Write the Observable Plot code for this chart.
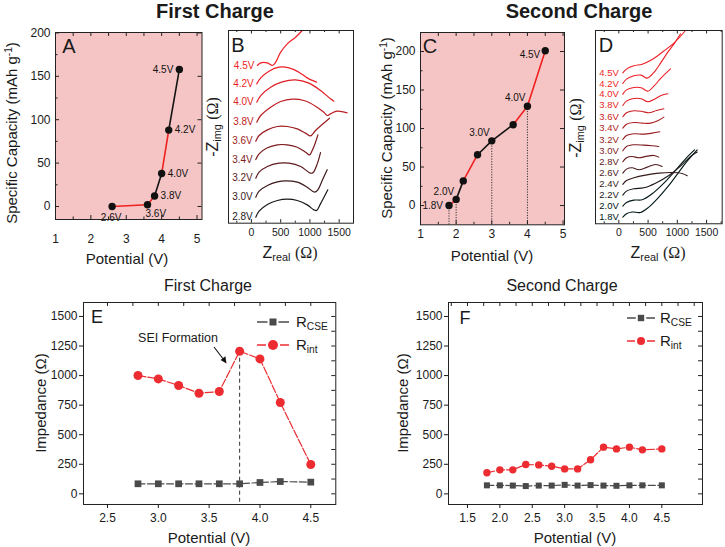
<!DOCTYPE html>
<html><head><meta charset="utf-8">
<script src="https://cdn.jsdelivr.net/npm/d3@7"></script>
<script src="https://cdn.jsdelivr.net/npm/@observablehq/plot@0.6"></script>
<style>
html,body{margin:0;padding:0;background:#fff;}
#fig{position:relative;width:725px;height:547px;overflow:hidden;background:#fff;font-family:"Liberation Sans",Arial,Helvetica,sans-serif;color:#1a1a1a;}
.t{position:absolute;white-space:nowrap;line-height:1;}
.s{font-size:68%;position:relative;top:0.32em;}
.p{font-size:68%;position:relative;top:-0.45em;}
.sf{font-family:"Liberation Serif","DejaVu Serif",serif;}
</style></head><body><div id="fig"></div>
<script>
// ================= DATA =================
// Panel A (first charge): specific capacity vs potential
const aPotential = [2.6, 3.6, 3.8, 4.0, 4.2, 4.5];
const aCapacity  = [0, 2, 12, 38, 88, 158];
const aLabels    = ["2.6V", "3.6V", "3.8V", "4.0V", "4.2V", "4.5V"];
// Panel C (second charge)
const cPotential = [1.8, 2.0, 2.2, 2.6, 3.0, 3.6, 4.0, 4.5];
const cCapacity  = [0, 8, 32, 66, 84, 105, 129, 201];
const cLabels    = ["1.8V", "2.0V", "", "", "3.0V", "", "4.0V", "4.5V"];
const cDropPotentials = [1.8, 2.0, 3.0, 4.0];
// Panel B (first charge Nyquist curves, stacked): [Zreal, -Zimg] in ohm
const bVoltages = [2.8, 3.0, 3.2, 3.4, 3.6, 3.8, 4.0, 4.2, 4.5];
const bCurves = [
  [[74,102],[131,204],[273,318],[443,386],[613,409],[784,386],[954,312],[1068,227],[1113,216],[1181,329],[1306,568]],
  [[74,443],[131,545],[273,642],[443,704],[585,721],[784,699],[954,613],[1079,528],[1136,568],[1210,727],[1295,909]],
  [[74,767],[131,869],[273,966],[471,1022],[642,1022],[841,966],[1011,852],[1056,863],[1125,1011],[1181,1204]],
  [[74,1085],[131,1181],[273,1284],[443,1335],[613,1335],[784,1295],[926,1210],[994,1164],[1039,1238],[1096,1380],[1136,1505]],
  [[74,1397],[131,1494],[273,1590],[443,1647],[613,1647],[784,1607],[926,1534],[1011,1488],[1096,1579],[1210,1681],[1335,1789]],
  [[91,1721],[159,1835],[329,1977],[500,2073],[699,2113],[897,2090],[1096,1994],[1238,1891],[1295,1835],[1352,1863],[1465,1908],[1636,1880]],
  [[91,2062],[159,2175],[329,2317],[528,2408],[755,2442],[983,2386],[1181,2261],[1352,2119],[1409,2079]],
  [[91,2374],[159,2476],[301,2590],[471,2658],[642,2647],[812,2573],[954,2476],[1113,2403]],
  [[102,2687],[159,2732],[273,2732],[358,2687],[415,2743],[500,2914],[613,3056],[755,3169],[869,3283]]
];
// Panel D (second charge Nyquist curves, stacked)
const dVoltages = [1.8, 2.0, 2.2, 2.4, 2.6, 2.8, 3.0, 3.2, 3.4, 3.6, 3.8, 4.0, 4.2, 4.5];
const dCurves = [
  [[68,114],[131,171],[228,200],[371,194],[513,285],[684,456],[855,656],[1026,884],[1169,1072],[1340,1265]],
  [[68,302],[131,365],[257,405],[399,410],[570,513],[770,695],[969,912],[1140,1112],[1294,1265]],
  [[68,490],[131,559],[257,599],[428,616],[627,695],[855,827],[1055,986],[1226,1151],[1340,1226]],
  [[68,673],[131,741],[257,787],[456,832],[684,866],[912,878],[1083,861],[1169,821]],
  [[68,866],[131,935],[228,958],[342,923],[485,969],[627,1015],[741,980]],
  [[68,1060],[131,1129],[228,1151],[342,1129],[485,1157],[599,1169],[684,1140]],
  [[68,1248],[131,1322],[257,1351],[428,1345],[570,1334],[684,1322]],
  [[68,1442],[131,1510],[257,1539],[428,1533],[570,1550],[701,1573]],
  [[68,1636],[131,1704],[257,1733],[399,1721],[542,1721],[656,1756],[770,1824]],
  [[68,1830],[131,1898],[257,1932],[399,1921],[513,1898],[644,1938],[770,1967]],
  [[68,2024],[131,2098],[257,2143],[382,2138],[496,2086],[610,2132],[724,2195],[838,2223]],
  [[68,2217],[131,2291],[257,2331],[382,2326],[496,2269],[610,2366],[724,2497],[884,2651]],
  [[68,2400],[131,2474],[257,2531],[382,2542],[485,2491],[599,2588],[724,2765],[838,2936],[952,3089],[1055,3249]],
  [[68,2582],[131,2645],[257,2702],[399,2730],[570,2810],[758,2947],[941,3089],[1140,3306]]
];
// Panel E (first charge impedance)
const ePotential = [2.8, 3.0, 3.2, 3.4, 3.6, 3.8, 4.0, 4.2, 4.5];
const eRcse = [85, 85, 85, 85, 85, 85, 96, 104, 99];
const eRint = [1001, 972, 916, 851, 865, 1206, 1141, 772, 248];
// Panel F (second charge impedance)
const fPotential = [1.8, 2.0, 2.2, 2.4, 2.6, 2.8, 3.0, 3.2, 3.4, 3.6, 3.8, 4.0, 4.2, 4.5];
const fRcse = [72, 72, 70, 66, 70, 70, 76, 70, 74, 70, 68, 72, 72, 72];
const fRint = [178, 203, 203, 248, 245, 234, 211, 211, 288, 395, 380, 395, 372, 380];
// Tick values
const potTicksAC = [1, 2, 3, 4, 5];
const capTicks = [0, 50, 100, 150, 200];
const zTicks = [0, 500, 1000, 1500];
const impTicks = [0, 250, 500, 750, 1000, 1250, 1500];
const eTicks = [2.5, 3.0, 3.5, 4.0, 4.5];
const fTicks = [1.5, 2.0, 2.5, 3.0, 3.5, 4.0, 4.5];

// ================= STYLE =================
const FONT = '"Liberation Sans", Arial, Helvetica, sans-serif';
const RED = "#ec2c30", SEG_RED = "#f0201f", BLACK = "#141414", PINK = "#f5c5c5", GRAY = "#4a4a4a";
const aSegColors = [SEG_RED, SEG_RED, BLACK, SEG_RED, BLACK];
const cSegColors = [SEG_RED, BLACK, SEG_RED, BLACK, BLACK, SEG_RED, SEG_RED];
const aLabelPos = ["below", "belowRight", "right", "right", "right", "left"];
const cLabelPos = ["left", "upLeft", "", "", "upLeft", "", "upLeft", "leftLow"];
const PLACE = {
  below: {textAnchor: "middle", dx: -1, dy: 11},
  belowRight: {textAnchor: "start", dx: -2, dy: 9},
  right: {textAnchor: "start", dx: 6, dy: 0},
  left: {textAnchor: "end", dx: -6, dy: 0},
  upLeft: {textAnchor: "end", dx: -2, dy: -8},
  leftLow: {textAnchor: "end", dx: -5, dy: 4}
};

const fig = document.getElementById("fig");

function panel({frame: [x0, y0, x1, y1], pad: [pl, pt, pr, pb], x, y, color, marks, fontSize = 12}) {
  const svg = Plot.plot({
    width: x1 - x0 + pl + pr, height: y1 - y0 + pt + pb,
    marginLeft: pl, marginTop: pt, marginRight: pr, marginBottom: pb,
    x, y, color,
    style: {background: "transparent", fontFamily: FONT, fontSize: fontSize + "px", color: "#1a1a1a", overflow: "visible"},
    marks
  });
  svg.style.position = "absolute";
  svg.style.left = (x0 - pl) + "px";
  svg.style.top = (y0 - pt) + "px";
  fig.appendChild(svg);
}
function boxTicks(frame, {bottom = [], top = [], left = [], right = []}, len) {
  const W = frame[2] - frame[0], H = frame[3] - frame[1];
  const st = {stroke: "#222", strokeWidth: 1};
  return [
    Plot.ruleX(bottom, {...st, insetTop: H - len}),
    Plot.ruleX(top, {...st, insetBottom: H - len}),
    Plot.ruleY(left, {...st, insetRight: W - len}),
    Plot.ruleY(right, {...st, insetLeft: W - len})
  ];
}
function inDomain(vals, [a, b]) { return vals.filter(v => v >= a - 1e-9 && v <= b + 1e-9); }
function segments(rows, colors) {
  return colors.flatMap((c, i) => [{...rows[i], seg: i, c}, {...rows[i + 1], seg: i, c}]);
}
function pointLabels(rows) {
  return Object.entries(PLACE).map(([k, o]) =>
    Plot.text(rows.filter(r => r.pos === k && r.label), {x: "x", y: "y", text: "label", fontSize: 10, fill: "#111", ...o}));
}

// ---------- Panel A ----------
{
  const frame = [55, 31.5, 201.5, 218.5];
  const xd = [1, 5.14], yd = [-15, 200.5];
  const rows = aPotential.map((x, i) => ({x, y: aCapacity[i], label: aLabels[i], pos: aLabelPos[i]}));
  panel({
    frame, pad: [40, 8, 8, 30],
    x: {domain: xd}, y: {domain: yd},
    marks: [
      Plot.frame({fill: PINK, stroke: null}),
      ...boxTicks(frame, {bottom: potTicksAC, top: inDomain(d3.range(1, 5.01, 0.5), xd), left: capTicks, right: capTicks}, 4),
      ...boxTicks(frame, {bottom: d3.range(1.5, 5, 1), left: d3.range(25, 200, 50)}, 2.5),
      Plot.line(segments(rows, aSegColors), {x: "x", y: "y", z: "seg", stroke: "c", strokeWidth: 1.6}),
      Plot.dot(rows, {x: "x", y: "y", r: 3.7, fill: "#111"}),
      ...pointLabels(rows),
      Plot.frame({stroke: "#222"}),
      Plot.axisX(potTicksAC, {tickSize: 0, tickPadding: 15, label: null, tickFormat: d3.format("d")}),
      Plot.axisY(capTicks, {tickSize: 0, tickPadding: 5, label: null, tickFormat: d3.format("d")})
    ]
  });
}
// ---------- Panel B ----------
{
  const frame = [228, 30, 353, 222.7];
  const xd = [-392, 1745];
  const pts = bVoltages.flatMap((v, i) => bCurves[i].map(([x, y]) => ({v, x, y})));
  const starts = bVoltages.map((v, i) => ({v, x: bCurves[i][0][0], y: bCurves[i][0][1], label: v.toFixed(1) + "V"}));
  panel({
    frame, pad: [8, 8, 12, 20], fontSize: 10.5,
    x: {domain: xd}, y: {domain: [0, 3283], axis: null},
    color: {type: "linear", domain: [2.8, 4.1, 4.5], range: ["#1c1819", "#ee1f25", "#ee1f25"]},
    marks: [
      ...boxTicks(frame, {bottom: zTicks, top: zTicks}, 3.5),
      ...boxTicks(frame, {bottom: inDomain(d3.range(-250, 1750, 500), xd), top: inDomain(d3.range(-250, 1750, 500), xd)}, 2),
      Plot.line(pts, {x: "x", y: "y", z: "v", stroke: "v", curve: "catmull-rom", strokeWidth: 1.2, clip: true}),
      Plot.text(starts, {x: "x", y: "y", text: "label", fill: "v", textAnchor: "end", dx: -3, fontSize: 10}),
      Plot.frame({stroke: "#222"}),
      Plot.axisX(zTicks, {tickSize: 0, tickPadding: 5, label: null, tickFormat: d3.format("d")})
    ]
  });
}
// ---------- Panel C ----------
{
  const frame = [420, 31.7, 564, 224];
  const xd = [1, 5.04], yd = [-25, 224.7];
  const rows = cPotential.map((x, i) => ({x, y: cCapacity[i], label: cLabels[i], pos: cLabelPos[i]}));
  const drops = rows.filter(r => cDropPotentials.includes(r.x));
  panel({
    frame, pad: [35, 8, 10, 22],
    x: {domain: xd}, y: {domain: yd},
    marks: [
      Plot.frame({fill: PINK, stroke: null}),
      ...boxTicks(frame, {bottom: potTicksAC, top: inDomain(d3.range(1, 5.01, 0.5), xd), left: capTicks, right: capTicks}, 4),
      ...boxTicks(frame, {bottom: d3.range(1.5, 5, 1), left: d3.range(25, 225, 50)}, 2.5),
      Plot.ruleX(drops, {x: "x", y1: "y", y2: yd[0], stroke: "#222", strokeWidth: 0.9, strokeDasharray: "1.2,1.4"}),
      Plot.line(segments(rows, cSegColors), {x: "x", y: "y", z: "seg", stroke: "c", strokeWidth: 1.6}),
      Plot.dot(rows, {x: "x", y: "y", r: 3.7, fill: "#111"}),
      ...pointLabels(rows),
      Plot.frame({stroke: "#222"}),
      Plot.axisX(potTicksAC, {tickSize: 0, tickPadding: 5, label: null, tickFormat: d3.format("d")}),
      Plot.axisY(capTicks, {tickSize: 0, tickPadding: 5, label: null, tickFormat: d3.format("d")})
    ]
  });
}
// ---------- Panel D ----------
{
  const frame = [595, 30, 721.7, 223.3];
  const xd = [-399, 1767];
  const pts = dVoltages.flatMap((v, i) => dCurves[i].map(([x, y]) => ({v, x, y})));
  const starts = dVoltages.map((v, i) => ({v, x: dCurves[i][0][0], y: dCurves[i][0][1], label: v.toFixed(1) + "V"}));
  panel({
    frame, pad: [8, 8, 3, 20], fontSize: 10.5,
    x: {domain: xd}, y: {domain: [0, 3306], axis: null},
    color: {type: "linear", domain: [2.2, 3.9, 4.5], range: ["#1c1819", "#ee1f25", "#ee1f25"]},
    marks: [
      ...boxTicks(frame, {bottom: zTicks, top: zTicks}, 3.5),
      ...boxTicks(frame, {bottom: inDomain(d3.range(-250, 1767, 500), xd), top: inDomain(d3.range(-250, 1767, 500), xd)}, 2),
      Plot.line(pts, {x: "x", y: "y", z: "v", stroke: "v", curve: "catmull-rom", strokeWidth: 1.1, clip: true}),
      Plot.text(starts, {x: "x", y: "y", text: "label", fill: "v", textAnchor: "end", dx: -4, fontSize: 9.5}),
      Plot.frame({stroke: "#222"}),
      Plot.axisX(zTicks, {tickSize: 0, tickPadding: 5, label: null, tickFormat: d3.format("d")})
    ]
  });
}
// ---------- Panels E & F ----------
function impedancePanel(frame, xd, potential, rcse, rint, xticks, {peakRule = false, rIntR = 4.4, rCseR = 3.8}) {
  const yd = [-90, 1618];
  const rows = potential.map((x, i) => ({x, rcse: rcse[i], rint: rint[i]}));
  const peak = rows.filter(r => r.rint === d3.max(rint));
  panel({
    frame, pad: [45, 8, 8, 25],
    x: {domain: xd}, y: {domain: yd},
    marks: [
      ...boxTicks(frame, {top: inDomain(d3.range(1, 5.01, 0.25), xd), right: inDomain(d3.range(-125, 1620, 125), yd)}, 4),
      peakRule ? Plot.ruleX(peak, {x: "x", y1: "rint", y2: yd[0], stroke: "#333", strokeWidth: 1, strokeDasharray: "4,3"}) : null,
      Plot.line(rows, {x: "x", y: "rcse", stroke: GRAY, strokeWidth: 1.2, strokeDasharray: "7,2.5"}),
      Plot.line(rows, {x: "x", y: "rint", stroke: RED, strokeWidth: 1.2, strokeDasharray: "8,2"}),
      Plot.dot(rows, {x: "x", y: "rcse", symbol: "square", r: rCseR, fill: GRAY}),
      Plot.dot(rows, {x: "x", y: "rint", r: rIntR, fill: RED}),
      Plot.frame({stroke: "#222"}),
      Plot.axisX(xticks, {tickSize: 4, tickPadding: 5, label: null, tickFormat: d3.format(".1f")}),
      Plot.axisY(impTicks, {tickSize: 4, tickPadding: 2, label: null, tickFormat: d3.format("d")})
    ].filter(Boolean)
  });
}
impedancePanel([82.7, 302, 335, 504], [2.264, 4.746], ePotential, eRcse, eRint, eTicks, {peakRule: true, rIntR: 4.5, rCseR: 3.8});
impedancePanel([448, 302, 702, 504], [1.207, 5.128], fPotential, fRcse, fRint, fTicks, {rIntR: 3.7, rCseR: 3.4});

// ================= TEXT & LEGENDS (overlays) =================
function T(html, x, y, {size = 15, weight = "normal", rot = false, anchor = "middle", color = "#1a1a1a"} = {}) {
  const d = document.createElement("div");
  d.className = "t";
  d.innerHTML = html;
  Object.assign(d.style, {left: x + "px", top: y + "px", fontSize: size + "px", fontWeight: weight, color,
    transform: `translate(${anchor === "start" ? "0" : "-50%"},-50%)` + (rot ? " rotate(-90deg)" : "")});
  fig.appendChild(d);
}
// Titles
T("First Charge", 215, 11, {size: 20, weight: "bold"});
T("Second Charge", 579, 11, {size: 20, weight: "bold"});
T("First Charge", 208, 286, {size: 16});
T("Second Charge", 562, 286, {size: 16});
// Panel letters
T("A", 69, 46, {size: 20});
T("B", 238, 45, {size: 20});
T("C", 430, 46, {size: 20});
T("D", 606, 45, {size: 20});
T("E", 97, 317, {size: 18});
T("F", 465, 318, {size: 18});
// Axis titles
const capLabel = 'Specific Capacity (mAh g<span class="p">-1</span>)';
T(capLabel, 12, 133, {size: 15, rot: true});
T(capLabel, 387, 128, {size: 15, rot: true});
T("Potential (V)", 127, 258, {size: 15});
T("Potential (V)", 492, 255, {size: 15});
T('-Z<span class="s">img</span> <span class="sf">(Ω)</span>', 213, 127, {size: 16, rot: true});
T('-Z<span class="s">img</span> <span class="sf">(Ω)</span>', 576, 128, {size: 16, rot: true});
T('Z<span class="s">real</span> <span class="sf">(Ω)</span>', 290, 253, {size: 16});
T('Z<span class="s">real</span> <span class="sf">(Ω)</span>', 658, 253, {size: 16});
T("Impedance (Ω)", 40, 403, {size: 15, rot: true});
T("Impedance (Ω)", 402, 403, {size: 15, rot: true});
T("Potential (V)", 209, 537, {size: 15});
T("Potential (V)", 575, 537, {size: 15});
// Annotation
T("SEI Formation", 178, 338, {size: 12.5});
// Legends
T('R<span class="s">CSE</span>', 296, 322, {size: 15, anchor: "start"});
T('R<span class="s">int</span>', 296, 345, {size: 15, anchor: "start"});
T('R<span class="s">CSE</span>', 660, 318, {size: 15, anchor: "start"});
T('R<span class="s">int</span>', 660, 341, {size: 15, anchor: "start"});

const ov = d3.create("svg").attr("width", 725).attr("height", 547)
  .style("position", "absolute").style("left", "0px").style("top", "0px").style("overflow", "visible");
function swatch(x0, x1, y, kind, size, color) {
  const cx = (x0 + x1) / 2, gap = size + 2;
  ov.append("line").attr("x1", x0).attr("x2", cx - gap).attr("y1", y).attr("y2", y).attr("stroke", color).attr("stroke-width", 1.5);
  ov.append("line").attr("x1", cx + gap).attr("x2", x1).attr("y1", y).attr("y2", y).attr("stroke", color).attr("stroke-width", 1.5);
  if (kind === "square") ov.append("rect").attr("x", cx - size).attr("y", y - size).attr("width", 2 * size).attr("height", 2 * size).attr("fill", color);
  else ov.append("circle").attr("cx", cx).attr("cy", y).attr("r", size).attr("fill", color);
}
swatch(257, 289, 322, "square", 3.5, GRAY);
swatch(257, 289, 345, "circle", 5, RED);
swatch(627, 655, 318, "square", 3.2, GRAY);
swatch(627, 655, 341, "circle", 4, RED);
// Arrow for SEI annotation
ov.append("line").attr("x1", 214).attr("y1", 347).attr("x2", 224).attr("y2", 360).attr("stroke", "#111").attr("stroke-width", 1.1);
ov.append("path").attr("d", "M226.5,363.5 L220.6,359.9 L225.4,356.2 Z").attr("fill", "#111");
fig.appendChild(ov.node());
</script></body></html>
